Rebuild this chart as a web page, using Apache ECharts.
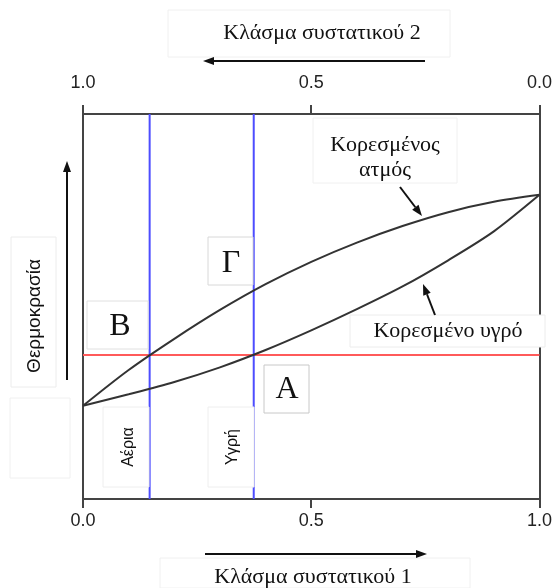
<!DOCTYPE html>
<html>
<head>
<meta charset="utf-8">
<script src="https://cdn.jsdelivr.net/npm/echarts@6/dist/echarts.min.js"></script>
<style>html,body{margin:0;padding:0;background:#fff;}#c{width:555px;height:588px;}</style>
</head>
<body>
<div id="c"></div>
<script>
// Data (x = mole fraction of component 1, y = temperature in arbitrary units 0..100)
var fracX = [0, 0.1, 0.2, 0.3, 0.4, 0.5, 0.6, 0.7, 0.8, 0.9, 1.0];
var vaporT = [24.2, 33.5, 41.6, 49.1, 55.8, 61.6, 66.6, 70.9, 74.5, 77.2, 79.0];
var liquidT = [24.2, 27.2, 30.4, 34.2, 38.7, 43.8, 49.3, 55.2, 62.0, 69.5, 79.0];
var blueX = [0.146, 0.374];
var redT = 37.4;
var bottomTicks = ['0.0', '0.5', '1.0'];
var topTicks = ['1.0', '0.5', '0.0'];

function pairs(xs, ys) { return xs.map(function (x, i) { return [x, ys[i]]; }); }

var serif = '"Liberation Serif", "DejaVu Serif", serif';
var sans = '"Liberation Sans", Arial, sans-serif';

function box(x, y, w, h, col) {
  return { type: 'rect', shape: { x: x, y: y, width: w, height: h }, style: { fill: '#fff', stroke: col || '#e6e6e6', lineWidth: 1 }, z: 5 };
}
function txt(x, y, t, size, rot, fam) {
  return { type: 'text', x: x, y: y, rotation: rot || 0, style: { text: t, font: size + 'px ' + (fam || serif), fill: '#111', align: 'center', verticalAlign: 'middle' }, z: 10 };
}
function arrow(x1, y1, x2, y2) {
  var a = Math.atan2(y2 - y1, x2 - x1), L = 11, W = 4;
  var bx = x2 - L * Math.cos(a), by = y2 - L * Math.sin(a);
  var px = -Math.sin(a) * W, py = Math.cos(a) * W;
  return [
    { type: 'line', shape: { x1: x1, y1: y1, x2: bx, y2: by }, style: { stroke: '#111', lineWidth: 2 }, z: 10 },
    { type: 'polygon', shape: { points: [[x2, y2], [bx + px, by + py], [bx - px, by - py]] }, style: { fill: '#111' }, z: 10 }
  ];
}

var series = [
  { type: 'line', name: 'vapor', data: pairs(fracX, vaporT), smooth: 0.3, showSymbol: false, lineStyle: { color: '#333', width: 2 }, z: 3 },
  { type: 'line', name: 'liquid', data: pairs(fracX, liquidT), smooth: 0.3, showSymbol: false, lineStyle: { color: '#333', width: 2 }, z: 3 },
  { type: 'line', name: 'red', data: [[0, redT], [1, redT]], showSymbol: false, lineStyle: { color: '#ff5a5a', width: 2 }, z: 2 }
];
blueX.forEach(function (bx) {
  series.push({ type: 'line', data: [[bx, 0], [bx, 100]], showSymbol: false, lineStyle: { color: '#4d4dff', width: 2 }, z: 2 });
});

var graphics = [
  box(168, 10, 282, 47, '#f0f0f0'),
  txt(322, 33, 'Κλάσμα συστατικού 2', 22),
  box(160, 558, 310, 30, '#f0f0f0'),
  txt(313, 577, 'Κλάσμα συστατικού 1', 22),
  box(11, 237, 45, 150, '#ececec'),
  txt(35, 316, 'Θερμοκρασία', 19, Math.PI / 2, sans),
  box(10, 398, 60, 80, '#f0f0f0'),
  box(87, 301, 61, 48, '#e0e0e0'),
  txt(120, 327, 'Β', 32),
  box(208, 237, 45, 48, '#d8d8d8'),
  txt(231, 264, 'Γ', 32),
  box(264, 365, 45, 48, '#c8c8c8'),
  txt(287, 390, 'Α', 32),
  box(103, 407, 46, 80, '#eeeeee'),
  txt(129, 447, 'Αέρια', 16, Math.PI / 2, sans),
  box(208, 407, 46, 80, '#eeeeee'),
  txt(233, 447, 'Υγρή', 16, Math.PI / 2, sans),
  box(313, 118, 144, 65, '#f0f0f0'),
  txt(385, 145, 'Κορεσμένος', 22),
  txt(385, 170, 'ατμός', 22),
  box(350, 315, 195, 32, '#ececec'),
  txt(448, 331, 'Κορεσμένο υγρό', 22)
];
graphics = graphics.concat(arrow(425, 61, 203, 61));
graphics = graphics.concat(arrow(205, 554, 427, 554));
graphics = graphics.concat(arrow(67, 380, 67, 161));
graphics = graphics.concat(arrow(400, 187, 422, 216));
graphics = graphics.concat(arrow(435, 315, 423, 284));

var axisLineStyle = { show: true, onZero: false, lineStyle: { color: '#444', width: 2 } };

var chart = echarts.init(document.getElementById('c'), null, { renderer: 'canvas' });
chart.setOption({
  animation: false,
  backgroundColor: '#fff',
  grid: { left: 83, right: 9, top: 114, bottom: 89, containLabel: false },
  xAxis: [
    { type: 'value', min: 0, max: 1, interval: 0.5, position: 'bottom',
      axisLine: axisLineStyle,
      axisTick: { show: true, length: 9, lineStyle: { color: '#444', width: 2 } },
      axisLabel: { margin: 13, fontSize: 18, fontFamily: sans, color: '#222', formatter: function (v) { return bottomTicks[Math.round(v * 2)]; } },
      splitLine: { show: false } },
    { type: 'value', min: 0, max: 1, interval: 0.5, position: 'top', inverse: true,
      axisLine: axisLineStyle,
      axisTick: { show: true, length: 9, lineStyle: { color: '#444', width: 2 } },
      axisLabel: { margin: 22, fontSize: 18, fontFamily: sans, color: '#222', formatter: function (v) { return topTicks[2 - Math.round(v * 2)]; } },
      splitLine: { show: false } }
  ],
  yAxis: [
    { type: 'value', min: 0, max: 100, position: 'left',
      axisLine: axisLineStyle,
      axisTick: { show: false }, axisLabel: { show: false }, splitLine: { show: false } },
    { type: 'value', min: 0, max: 100, position: 'right',
      axisLine: axisLineStyle,
      axisTick: { show: false }, axisLabel: { show: false }, splitLine: { show: false } }
  ],
  series: series,
  graphic: graphics
});
</script>
</body>
</html>
